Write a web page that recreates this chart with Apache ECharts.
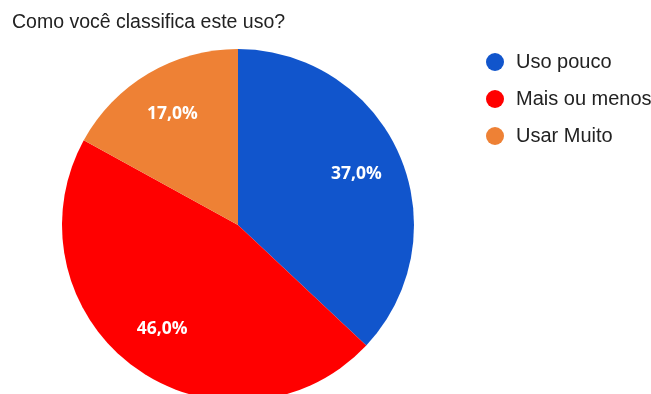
<!DOCTYPE html>
<html><head><meta charset="utf-8">
<script src="https://cdn.jsdelivr.net/npm/echarts@6/dist/echarts.min.js"></script>
<style>html,body{margin:0;padding:0;background:#fff}#c{width:651px;height:394px}</style>
</head><body><div id="c"></div>
<script>
const titleText = 'Como você classifica este uso?';
const categories = ['Uso pouco', 'Mais ou menos', 'Usar Muito'];
const values = [37.0, 46.0, 17.0];
const colors = ['#1155cc', '#ff0000', '#ee8135'];

const data = categories.map((n, i) => ({ name: n, value: values[i], itemStyle: { color: colors[i] } }));
const fmt = p => p.value.toFixed(1).replace('.', ',') + '%';

const chart = echarts.init(document.getElementById('c'), null, { renderer: 'canvas' });
chart.setOption({
  animation: false,
  backgroundColor: '#fff',
  title: { text: titleText, left: 12, top: 13, padding: 0, textStyle: { fontFamily: 'Liberation Sans, Arial', fontSize: 19.5, fontWeight: 'normal', color: '#222' } },
  legend: {
    orient: 'vertical', left: 486, top: 52, padding: 0, icon: 'circle', itemWidth: 18, itemHeight: 18, itemGap: 17,
    data: categories,
    textStyle: { fontFamily: 'Liberation Sans, Arial', fontSize: 20, lineHeight: 20, color: '#222', padding: [0, 0, 0, 7] }
  },
  series: [
    {
      type: 'pie', center: [238, 225], radius: [0, 176], startAngle: 90, clockwise: true,
      data: data, label: { show: false }, labelLine: { show: false },
      itemStyle: { borderWidth: 0 }, emphasis: { disabled: true }
    },
    {
      type: 'pie', center: [238, 225], radius: [0, 252], startAngle: 90, clockwise: true, silent: true,
      data: categories.map((n, i) => ({ name: n, value: values[i], itemStyle: { color: 'rgba(0,0,0,0)' } })),
      legendHoverLink: false,
      label: { show: true, position: 'inside', formatter: fmt, color: '#fff', fontWeight: 'bold', fontSize: 17.5, fontFamily: 'Open Sans, Liberation Sans' },
      labelLine: { show: false }, itemStyle: { borderWidth: 0 }, emphasis: { disabled: true }
    }
  ]
});
</script></body></html>
